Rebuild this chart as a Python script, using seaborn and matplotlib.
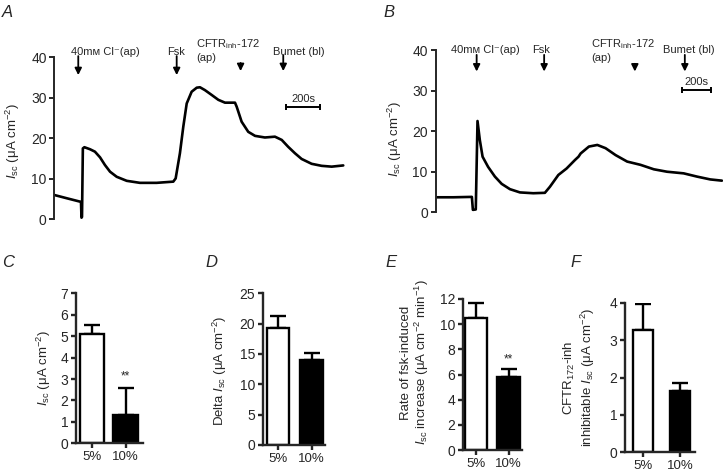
import matplotlib
matplotlib.use("Agg")
import matplotlib.pyplot as plt
import numpy as np
import pandas as pd
import seaborn as sns

sns.set_style("ticks")
plt.rcParams["font.family"] = ["Liberation Sans", "DejaVu Sans"]
plt.rcParams["mathtext.fontset"] = "custom"
plt.rcParams["mathtext.rm"] = "Liberation Sans"
plt.rcParams["mathtext.it"] = "Liberation Sans:italic"
plt.rcParams["mathtext.bf"] = "Liberation Sans:bold"

# ---- traces (time in s, Isc in uA cm-2) ----
time_a = [0, 73, 157, 160, 163, 168, 177, 210, 239, 269, 298, 328, 367, 426, 504,
          602, 700, 714, 739, 759, 779, 808, 838, 857, 886, 926, 965, 1004, 1063,
          1073, 1102, 1141, 1181, 1239, 1298, 1338, 1376, 1416, 1455, 1514, 1573,
          1632, 1700]
isc_a = [6.0, 5.2, 4.3, 0.4, 0.6, 17.5, 17.8, 17.3, 16.7, 15.3, 13.4, 11.75, 10.5,
         9.5, 9.0, 9.0, 9.3, 10.1, 16.3, 22.9, 28.6, 31.5, 32.5, 32.6, 31.9, 30.7,
         29.5, 28.8, 28.8, 27.8, 24.1, 21.6, 20.6, 20.2, 20.4, 19.6, 17.9, 16.3,
         14.9, 13.7, 13.2, 13.0, 13.3]

time_b = [0, 124, 251, 258, 278, 290, 306, 325, 363, 410, 457, 514, 583, 675, 755,
          790, 848, 905, 963, 987, 1002, 1059, 1117, 1174, 1243, 1323, 1415, 1507,
          1598, 1713, 1805, 1897, 1977]
isc_b = [3.7, 3.7, 3.8, 0.6, 0.7, 22.5, 17.8, 13.7, 11.2, 8.8, 7.0, 5.7, 4.9, 4.7,
         4.8, 6.3, 9.2, 10.8, 12.9, 13.7, 14.5, 16.2, 16.6, 15.8, 14.1, 12.5, 11.7,
         10.6, 10.0, 9.6, 8.8, 8.1, 7.8]

# additions (arrow time, arrow top, arrow tip)
arrows_a = [(141, 40.3, 35.6), (720, 40.3, 35.6), (1096, 38.6, 36.6), (1347, 40.5, 36.6)]
arrows_b = [(284, 38.8, 34.7), (750, 38.8, 34.7), (1376, 36.6, 34.7), (1721, 38.8, 34.7)]
# labels (x, y, text, ha)
labels_a = [(98, 41.3, "40mᴍ Cl⁻(ap)", "left"), (718, 41.3, "Fsk", "center"),
            (834, 43.3, r"CFTR$_{\mathrm{inh}}$-172", "left"), (834, 39.8, "(ap)", "left"),
            (1286, 41.3, "Bumet (bl)", "left")]
labels_b = [(105, 40.0, "40mᴍ Cl⁻(ap)", "left"), (731, 40.0, "Fsk", "center"),
            (1072, 41.4, r"CFTR$_{\mathrm{inh}}$-172", "left"), (1072, 38.0, "(ap)", "left"),
            (1567, 40.0, "Bumet (bl)", "left")]
scalebar_a = (1365, 1565, 27.7)
scalebar_b = (1702, 1902, 30.1)

# ---- bar summaries ----
groups = ["5%", "10%"]
mean_c, sem_c = [5.1, 1.3], [0.42, 1.3]
mean_d, sem_d = [19.2, 14.0], [2.1, 1.2]
mean_e, sem_e = [10.5, 5.83], [1.2, 0.61]
mean_f, sem_f = [3.27, 1.65], [0.71, 0.2]

W, H = 723, 476
fig = plt.figure(figsize=(W / 100, H / 100), dpi=100)


def px_axes(left, top, right, bottom):
    return fig.add_axes([left / W, 1 - bottom / H, (right - left) / W, (bottom - top) / H])


def trace_panel(ax, t, y, xmax, arrows, labels, scalebar, label_xy):
    sns.lineplot(x=t, y=y, ax=ax, color="black", lw=1.9, sort=False, estimator=None)
    ax.set_xlim(0, xmax)
    ax.set_ylim(0, 40)
    ax.set_yticks([0, 10, 20, 30, 40])
    ax.set_xticks([])
    sns.despine(ax=ax, bottom=True)
    ax.spines["left"].set_linewidth(1.4)
    ax.tick_params(axis="y", length=3.5, width=1.4, labelsize=10, pad=2)
    ax.set_ylabel(r"$I_{\mathrm{sc}}$ (μA cm$^{-2}$)", fontsize=9.5)
    ax.yaxis.set_label_coords(*label_xy)
    for x, top, tip in arrows:
        ax.annotate("", xy=(x, tip), xytext=(x, top), annotation_clip=False,
                    arrowprops=dict(arrowstyle="-|>", color="black", lw=1.3,
                                    mutation_scale=10, shrinkA=0, shrinkB=0))
    for x, yy, s, ha in labels:
        ax.text(x, yy, s, ha=ha, va="center", fontsize=8, clip_on=False)
    x0, x1, yb = scalebar
    ax.plot([x0, x1], [yb, yb], color="black", lw=1.4, marker="|", ms=5, mew=1.4)
    ax.text((x0 + x1) / 2, yb + 0.8, "200s", ha="center", va="bottom", fontsize=8)


ax_a = px_axes(54.3, 57.3, 345.3, 219.3)
trace_panel(ax_a, time_a, isc_a, 1712, arrows_a, labels_a, scalebar_a, (-0.11, 0.48))
ax_b = px_axes(435.5, 50, 723.5, 212.3)
trace_panel(ax_b, time_b, isc_b, 1988, arrows_b, labels_b, scalebar_b, (-0.109, 0.45))


def bar_panel(ax, means, sems, width, xlim, ymax, ystep, ylabel, label_xy, stars=None):
    df = pd.DataFrame({"group": groups, "value": means})
    sns.barplot(data=df, x="group", y="value", hue="group", palette=["white", "black"],
                edgecolor="black", linewidth=1.7, width=width, errorbar=None,
                legend=False, ax=ax, zorder=2)
    ax.errorbar([0, 1], means, yerr=[np.zeros(2), sems], fmt="none", ecolor="black",
                elinewidth=1.7, capsize=5.5, capthick=1.7, zorder=1)
    ax.set_xlim(*xlim)
    ax.set_ylim(0, ymax)
    ax.set_yticks(np.arange(0, ymax + 0.01, ystep))
    sns.despine(ax=ax)
    for side in ("left", "bottom"):
        ax.spines[side].set_linewidth(1.7)
    ax.tick_params(axis="both", length=3.5, width=1.7, pad=2)
    ax.tick_params(axis="y", labelsize=10)
    ax.tick_params(axis="x", labelsize=9.5)
    ax.set_xlabel("")
    ax.set_ylabel(ylabel, fontsize=9.5, linespacing=1.1)
    ax.yaxis.set_label_coords(*label_xy)
    if stars is not None:
        ax.text(1, stars, "**", ha="center", va="center", fontsize=8.5)


ax_c = px_axes(76, 293.3, 143, 443.3)
bar_panel(ax_c, mean_c, sem_c, 0.73, (-0.48, 1.52), 7, 1,
          r"$I_{\mathrm{sc}}$ (μA cm$^{-2}$)", (-0.34, 0.5), stars=3.1)
ax_d = px_axes(263, 293.3, 325, 445)
bar_panel(ax_d, mean_d, sem_d, 0.67, (-0.45, 1.4), 25, 5,
          r"Delta $I_{\mathrm{sc}}$ (μA cm$^{-2}$)", (-0.55, 0.49))
ax_e = px_axes(463, 299, 522, 450)
bar_panel(ax_e, mean_e, sem_e, 0.69, (-0.4, 1.415), 12, 2,
          "Rate of fsk-induced\n" + r"$I_{\mathrm{sc}}$ increase (μA cm$^{-2}$ min$^{-1}$)",
          (-0.54, 0.58), stars=7.2)
ax_f = px_axes(625, 303, 695, 452)
bar_panel(ax_f, mean_f, sem_f, 0.54, (-0.486, 1.405), 4, 1,
          r"CFTR$_{172}$-inh" + "\n" + r"inhibitable $I_{\mathrm{sc}}$ (μA cm$^{-2}$)",
          (-0.40, 0.5))

for letter, x, y in [("A", 2, 17), ("B", 383, 17), ("C", 2, 267), ("D", 205, 267),
                     ("E", 385, 267), ("F", 570, 267)]:
    fig.text(x / W, 1 - y / H, letter, fontsize=12, style="italic", va="baseline")

fig.savefig("out.png", dpi=100, facecolor="white")
